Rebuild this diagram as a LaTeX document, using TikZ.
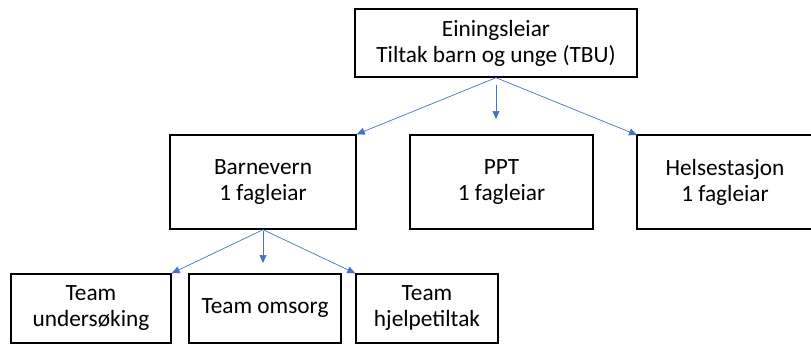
\documentclass[tikz,border=0pt]{standalone}
\usepackage{fontspec}
\setmainfont{Carlito}
\usetikzlibrary{arrows.meta}
\definecolor{arrowblue}{HTML}{4472C4}
\tikzset{
  orgbox/.style={draw=black, line width=1.4pt, rectangle, align=center, inner sep=0pt,
    font=\fontsize{23.3}{26}\selectfont},
  conn/.style={draw=arrowblue, line width=0.7pt, -{Triangle[length=8pt,width=7pt]}}
}
\begin{document}
\begin{tikzpicture}[x=1pt,y=-1pt]
\useasboundingbox (0,0) rectangle (811,345);
\begin{scope}
\clip (0,0) rectangle (811,345);
\node[orgbox, minimum width=282pt, minimum height=68pt] (top) at (496,43) {Einingsleiar\\Tiltak barn og unge (TBU)};
\node[orgbox, minimum width=186pt, minimum height=94pt] (bv) at (263,182) {Barnevern\\1 fagleiar};
\node[orgbox, minimum width=183pt, minimum height=94pt] (ppt) at (501.5,182) {PPT\\1 fagleiar};
\node[orgbox, minimum width=176pt, minimum height=94pt, draw=none, outer sep=0pt] (hs) at (725,182) {Helsestasjon\\1 fagleiar};
\draw[line width=1.4pt] (hs.north west) rectangle ([xshift=60pt]hs.south east);
\node[orgbox, minimum width=160pt, minimum height=69pt] (tu) at (91,308.5) {Team\\undersøking};
\node[orgbox, minimum width=152pt, minimum height=69pt] (to) at (265,308.5) {Team omsorg};
\node[orgbox, minimum width=142pt, minimum height=69pt] (th) at (427,308.5) {Team\\hjelpetiltak};
\coordinate (v1s) at (496,85);
\coordinate (v1e) at (496,119);
\coordinate (v2s) at (263,231);
\coordinate (v2e) at (263,263);
\draw[conn] (top.south) -- (bv.north east);
\draw[conn] (v1s) -- (v1e);
\draw[conn] (top.south) -- (hs.north west);
\draw[conn] (bv.south) -- (tu.north east);
\draw[conn] (v2s) -- (v2e);
\draw[conn] (bv.south) -- (th.north west);
\end{scope}
\end{tikzpicture}
\end{document}
